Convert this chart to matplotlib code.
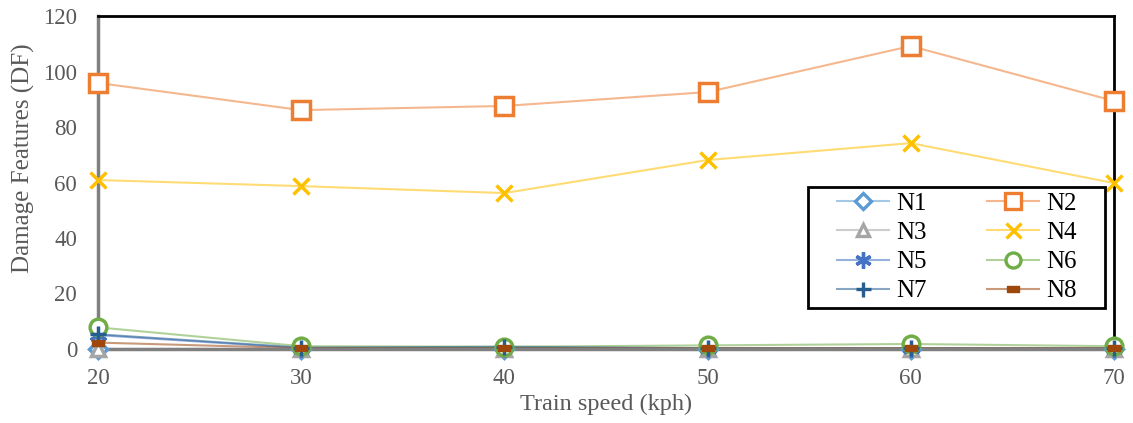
import matplotlib
matplotlib.use("Agg")
import matplotlib.pyplot as plt
from matplotlib.lines import Line2D
from matplotlib.patches import Rectangle

speeds = [20, 30, 40, 50, 60, 70]
N1 = [0, 0, 0, 0, 0, 0]
N2 = [95.9, 86.1, 87.6, 92.6, 109.2, 89.4]
N3 = [0, 0, 0, 0, 0, 0]
N4 = [60.9, 58.7, 56.2, 68.1, 74.2, 59.8]
N5 = [5.0, 0.3, 0.5, 0.2, 0.2, 0.2]
N6 = [7.8, 1.0, 0.8, 1.3, 1.8, 1.0]
N7 = [5.3, 0.5, 0.8, 0.3, 0.3, 0.3]
N8 = [2.3, 0.3, 0.3, 0.3, 0.3, 0.3]
names = ["N1", "N2", "N3", "N4", "N5", "N6", "N7", "N8"]
yticks = [0, 20, 40, 60, 80, 100, 120]

plt.rcParams['font.family'] = ['Liberation Serif', 'DejaVu Serif']

series = [N1, N2, N3, N4, N5, N6, N7, N8]
colors = ["#5B9BD5", "#ED7D31", "#A5A5A5", "#FFC000", "#4472C4", "#70AD47", "#255E91", "#9E480E"]
bar_marker = [(-1, -0.5), (1, -0.5), (1, 0.5), (-1, 0.5), (-1, -0.5)]
markers = ["D", "s", "^", "x", (6, 2, 0), "o", "+", bar_marker]
msizes = [9, 13, 10, 12, 13, 12, 12, 9]

fig = plt.figure(figsize=(11.33, 4.23), dpi=100)
ax = fig.add_axes([0.0865, 0.175, 0.8967, 0.787])

handles = {}
for i, (name, vals) in enumerate(zip(names, series)):
    c = colors[i]
    m = markers[i]
    filled = name in ["N4", "N5", "N7", "N8"]
    mew = 1.0 if name == "N8" else 2.5
    ax.plot(speeds, vals, color=c, alpha=0.55, lw=1.5, zorder=2)
    ax.plot(speeds, vals, linestyle="none", marker=m, markersize=msizes[i],
            markerfacecolor=(c if filled else "white"), markeredgecolor=c,
            markeredgewidth=mew, zorder=3, clip_on=False)
    handles[name] = Line2D([], [], color=matplotlib.colors.to_rgba(c, 0.55), lw=1.5, marker=m,
                           markersize=msizes[i] * 0.9,
                           markerfacecolor=(c if filled else "white"), markeredgecolor=c,
                           markeredgewidth=(1.0 if name == "N8" else 2.4))

ax.set_xlim(20, 70)
ax.set_ylim(0, 120)
ax.set_xticks(speeds)
ax.set_yticks(yticks)
ax.tick_params(axis="both", length=0, labelsize=16.5, labelcolor="#595959")
ax.tick_params(axis="x", pad=14)
ax.tick_params(axis="y", pad=15)
ax.set_xlabel("Train speed (kph)", fontsize=17.5, color="#595959")
ax.set_ylabel("Damage Features (DF)", fontsize=18, color="#595959")
ax.xaxis.set_label_coords(0.5, -0.135)
ax.yaxis.set_label_coords(-0.062, 0.574)

for side in ["top", "right"]:
    ax.spines[side].set_color("black")
    ax.spines[side].set_linewidth(2)
for side in ["left", "bottom"]:
    ax.spines[side].set_color("#808080")
    ax.spines[side].set_linewidth(2.5)

# legend box
W, H = 1133.0, 423.0
rect = Rectangle((808 / W, 1 - 308 / H), 297 / W, 121 / H, transform=fig.transFigure,
                 facecolor="white", edgecolor="black", linewidth=2, zorder=10)
fig.patches.append(rect)

order = ["N1", "N3", "N5", "N7", "N2", "N4", "N6", "N8"]
leg = fig.legend([handles[n] for n in order], order, ncol=2, loc="center",
                 bbox_to_anchor=(956.5 / W, 1 - 247.5 / H), bbox_transform=fig.transFigure,
                 frameon=False, fontsize=18, handlelength=2.1, handletextpad=0.28,
                 columnspacing=2.4, labelspacing=0.26, borderpad=0, borderaxespad=0)
leg.set_zorder(11)
for t in leg.get_texts():
    t.set_color("black")

fig.savefig("out.png", dpi=100)
